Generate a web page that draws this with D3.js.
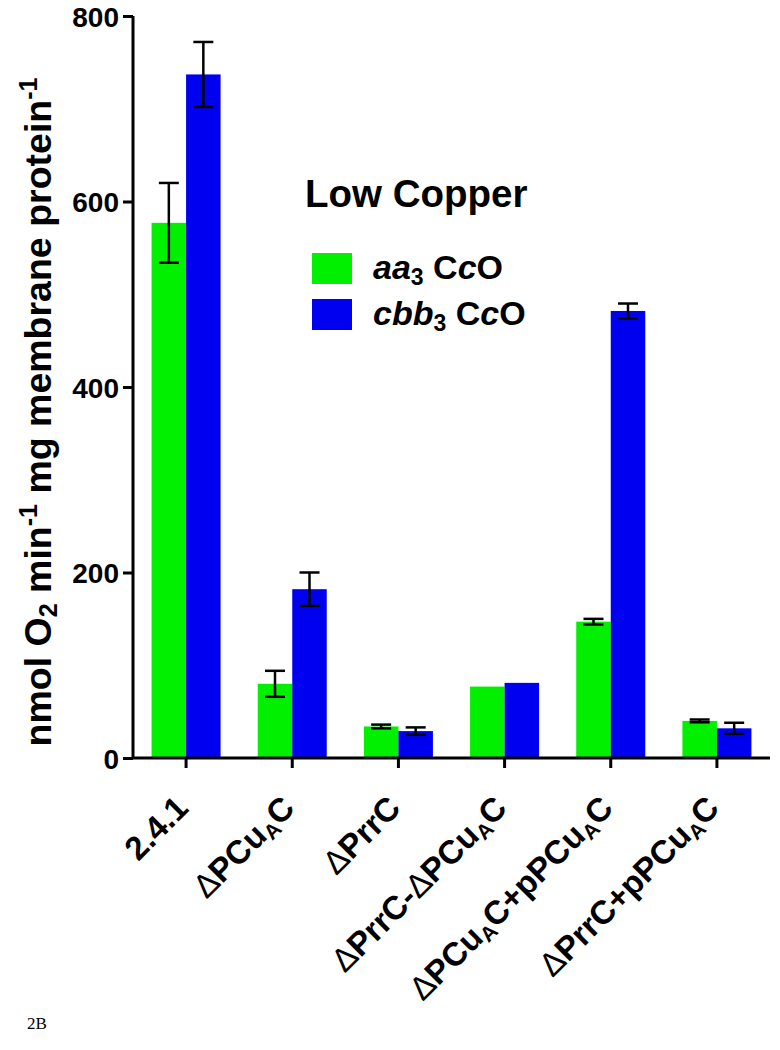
<!DOCTYPE html>
<html>
<head>
<meta charset="utf-8">
<script src="https://cdn.jsdelivr.net/npm/d3@7/dist/d3.min.js"></script>
<style>
  html, body { margin: 0; padding: 0; background: #fff; }
  svg { display: block; }
  text { font-family: "Liberation Sans", Arial, Helvetica, sans-serif; font-weight: bold; fill: #000; }
</style>
</head>
<body>
<script>
// ---- data ----
const categories = ["2.4.1", "ΔPCu{A}C", "ΔPrrC", "ΔPrrC-ΔPCu{A}C", "ΔPCu{A}C+pPCu{A}C", "ΔPrrC+pPCu{A}C"];
const seriesNames = ["aa3", "cbb3"];
const aa3Values = [577, 80, 34, 77, 147, 40];
const aa3Errors = [43, 14, 2, 0, 3, 1.5];
const cbb3Values = [737, 182, 29, 81, 482, 32];
const cbb3Errors = [35, 18, 4, 0, 8, 6];
const yTicks = [0, 200, 400, 600, 800];
const colors = {aa3: "#00f000", cbb3: "#0000f0"};

const W = 780, H = 1050;
const plot = {left: 133, right: 770, top: 16, bottom: 758};

const svg = d3.select("body").append("svg").attr("width", W).attr("height", H);

const x0 = d3.scaleBand().domain(categories).range([plot.left, plot.right])
  .paddingInner(0.35).paddingOuter(0.175);
const x1 = d3.scaleBand().domain(seriesNames).range([0, x0.bandwidth()]);
const y = d3.scaleLinear().domain([0, 800]).range([plot.bottom, plot.top]);

const rows = categories.map((c, i) => ({
  cat: c,
  vals: [
    {s: "aa3", v: aa3Values[i], e: aa3Errors[i]},
    {s: "cbb3", v: cbb3Values[i], e: cbb3Errors[i]}
  ]
}));

// bars
const g = svg.append("g");
const groups = g.selectAll("g.grp").data(rows).join("g")
  .attr("transform", d => `translate(${x0(d.cat)},0)`);
groups.selectAll("rect").data(d => d.vals).join("rect")
  .attr("x", d => x1(d.s))
  .attr("width", x1.bandwidth())
  .attr("y", d => y(d.v))
  .attr("height", d => y(0) - y(d.v))
  .attr("fill", d => colors[d.s]);

// error bars
const capW = 20;
const eb = groups.selectAll("g.err").data(d => d.vals.filter(v => v.e > 0)).join("g")
  .attr("stroke", "#000").attr("stroke-width", 2.5);
const cxOf = d => x1(d.s) + x1.bandwidth() / 2;
eb.append("line")
  .attr("x1", cxOf).attr("x2", cxOf)
  .attr("y1", d => y(d.v + d.e)).attr("y2", d => y(d.v - d.e));
eb.append("line")
  .attr("x1", d => cxOf(d) - capW / 2).attr("x2", d => cxOf(d) + capW / 2)
  .attr("y1", d => y(d.v + d.e)).attr("y2", d => y(d.v + d.e));
eb.append("line")
  .attr("x1", d => cxOf(d) - capW / 2).attr("x2", d => cxOf(d) + capW / 2)
  .attr("y1", d => y(d.v - d.e)).attr("y2", d => y(d.v - d.e));

// y axis
const yAxis = svg.append("g").attr("transform", `translate(${plot.left},0)`)
  .call(d3.axisLeft(y).tickValues(yTicks).tickSize(10).tickPadding(4).tickFormat(d3.format("d")));
yAxis.select(".domain").attr("stroke", "#000").attr("stroke-width", 3)
  .attr("d", `M0,${plot.bottom}V${plot.top}`);
yAxis.selectAll(".tick line").attr("stroke", "#000").attr("stroke-width", 3);
yAxis.selectAll(".tick text").style("font-size", "28px").attr("dy", "0.36em");

// x axis
const xAxis = svg.append("g").attr("transform", `translate(0,${plot.bottom})`)
  .call(d3.axisBottom(x0).tickSize(10).tickFormat(""));
xAxis.select(".domain").attr("stroke", "#000").attr("stroke-width", 3)
  .attr("d", `M${plot.left},0H${plot.right}`);
xAxis.selectAll(".tick line").attr("stroke", "#000").attr("stroke-width", 3);

// x labels (rotated, with subscript A, thin delta)
function addRich(textSel, str, subSize) {
  const parts = str.split(/(\{[^}]*\}|Δ)/).filter(p => p.length);
  parts.forEach(p => {
    if (p.startsWith("{")) {
      textSel.append("tspan").text(p.slice(1, -1)).style("font-size", subSize + "px").attr("baseline-shift", "-22%");
    } else if (p === "Δ") {
      textSel.append("tspan").text(p).style("font-weight", "normal");
    } else {
      textSel.append("tspan").text(p);
    }
  });
}
const xl = svg.append("g");
categories.forEach(c => {
  const cx = x0(c) + x0.bandwidth() / 2 + 4;
  const t = xl.append("text")
    .attr("transform", `translate(${cx},${plot.bottom + 52}) rotate(-45)`)
    .attr("text-anchor", "end")
    .style("font-size", "33px");
  addRich(t, c, 21);
});

// y title
const yt = svg.append("text")
  .attr("transform", `translate(51,412) rotate(-90)`)
  .attr("text-anchor", "middle")
  .style("font-size", "37.5px");
yt.append("tspan").text("nmol O");
yt.append("tspan").text("2").style("font-size", "25px").attr("baseline-shift", "-25%");
yt.append("tspan").text(" min");
yt.append("tspan").text("-1").style("font-size", "25px").attr("baseline-shift", "55%");
yt.append("tspan").text(" mg membrane protein");
yt.append("tspan").text("-1").style("font-size", "25px").attr("baseline-shift", "55%");

// legend
const lg = svg.append("g");
lg.append("text").attr("x", 305).attr("y", 207).style("font-size", "38.5px").text("Low Copper");
const legendItems = [
  {s: "aa3", base: "aa", sub: "3", y: 253},
  {s: "cbb3", base: "cbb", sub: "3", y: 299}
];
legendItems.forEach(it => {
  lg.append("rect").attr("x", 312).attr("y", it.y).attr("width", 40).attr("height", 31).attr("fill", colors[it.s]);
  const t = lg.append("text").attr("x", 373).attr("y", it.y + 26).style("font-size", "34px");
  t.append("tspan").text(it.base).style("font-style", "italic");
  t.append("tspan").text(it.sub).style("font-size", "23px").attr("baseline-shift", "-25%");
  t.append("tspan").text(" C");
  t.append("tspan").text("c").style("font-style", "italic");
  t.append("tspan").text("O");
});

// panel label
svg.append("text").attr("x", 27).attr("y", 1029)
  .style("font-size", "17px").style("font-weight", "normal")
  .style("font-family", "'Liberation Serif', 'Times New Roman', serif")
  .text("2B");
</script>
</body>
</html>
